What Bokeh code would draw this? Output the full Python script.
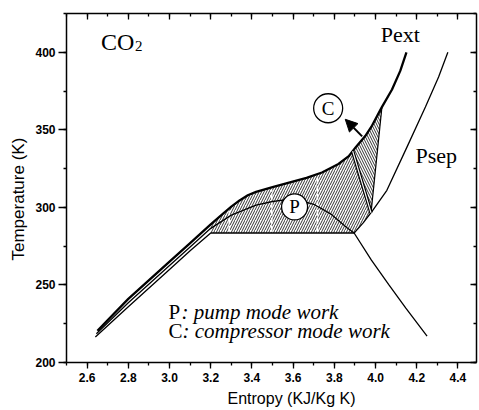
import numpy as np
from bokeh.plotting import figure
from bokeh.models import (Range1d, LinearAxis, SingleIntervalTicker, PrintfTickFormatter,
                          CustomJSTickFormatter, Title, Arrow, NormalHead)
from bokeh.core.properties import value
from bokeh.embed import file_html
from bokeh.resources import INLINE

# ---------------- data (entropy kJ/kg K, temperature K) ----------------
pext_s = [2.65, 2.8, 3.0, 3.1, 3.2, 3.26, 3.3, 3.34, 3.38, 3.42, 3.5, 3.58, 3.665, 3.74, 3.82,
          3.87, 3.905, 3.95, 3.98, 4.03, 4.08, 4.12, 4.15]
pext_T = [220.5, 241, 265, 277, 289, 296, 300.5, 304.5, 307.8, 310, 313, 316, 319, 322.5, 328,
          333, 339, 346, 352, 364.5, 376, 388, 400]

dome_s = [2.645, 2.8, 3.0, 3.1, 3.2, 3.3, 3.42, 3.5, 3.56, 3.62, 3.7, 3.78, 3.86,
          3.896, 3.98, 4.065, 4.147, 4.25]
dome_T = [218.5, 238.5, 262.5, 274.5, 286.5, 295, 301.5, 303.8, 304.8, 305, 302, 296, 287,
          283.5, 266, 250, 235, 217]

psep_s = [2.64, 2.8, 3.0, 3.1, 3.2, 3.896, 3.94, 3.983, 4.055, 4.153, 4.242, 4.306, 4.351]
psep_T = [216.5, 236, 260, 272, 283.5, 283.5, 290, 297.5, 311, 339, 364.7, 384, 400]

# boundaries of the work areas
p_left_s = 3.2
split_s = [3.889, 3.978]          # line separating pump / compressor areas
split_T_low = 296.5
c_right_s = 4.031                 # right limit of compressor area on Pext
evap_s = [3.896, 3.2]
evap_T = 283.5
guide_s = [3.29, 3.496, 3.718]    # white dashed guides inside pump area

circle_s = [3.770, 3.607]
circle_T = [363.9, 300.3]
circle_txt = ["C", "P"]
circle_size = [29, 26]

arrow_s = [3.935, 3.853]
arrow_T = [345.8, 356.8]

# ---------------- figure ----------------
W, H = 479, 410
p = figure(width=W, height=H, x_range=Range1d(2.5, 4.49), y_range=Range1d(200, 425),
           output_backend="svg", toolbar_location=None,
           min_border_left=66, min_border_right=3, min_border_top=13, min_border_bottom=48)
p.xgrid.visible = False
p.ygrid.visible = False
p.outline_line_color = None
p.background_fill_color = "white"
p.border_fill_color = "white"

def style_axis(ax, shown, tick_out_major, standoff):
    ax.axis_line_width = 1.5
    ax.axis_line_color = "black"
    ax.major_tick_line_width = 1.3
    ax.minor_tick_line_width = 1.3
    ax.major_tick_line_color = "black"
    ax.minor_tick_line_color = "black"
    if shown:
        ax.major_tick_out = tick_out_major
        ax.major_tick_in = 0
        ax.minor_tick_out = 3
        ax.minor_tick_in = 0
        ax.major_label_text_font = "Liberation Sans"
        ax.major_label_text_font_size = "12px"
        ax.major_label_text_font_style = "bold"
        ax.major_label_text_color = "black"
        ax.major_label_standoff = standoff
    else:
        ax.major_tick_out = 0
        ax.major_tick_in = 6
        ax.minor_tick_out = 0
        ax.minor_tick_in = 3
        ax.formatter = CustomJSTickFormatter(code="return ''")
        ax.major_label_text_font_size = "1px"
        ax.major_label_standoff = 0

xa = p.xaxis[0]
xa.ticker = SingleIntervalTicker(interval=0.2, num_minor_ticks=2)
xa.formatter = PrintfTickFormatter(format="%.1f")
style_axis(xa, True, 6, 4)

ya = p.yaxis[0]
ya.ticker = SingleIntervalTicker(interval=50, num_minor_ticks=2)
style_axis(ya, True, 8, 3)

top = LinearAxis(ticker=SingleIntervalTicker(interval=0.2, num_minor_ticks=2))
style_axis(top, False, 0, 0)
p.add_layout(top, "above")
right = LinearAxis(ticker=SingleIntervalTicker(interval=50, num_minor_ticks=2))
style_axis(right, False, 0, 0)
p.add_layout(right, "right")

# axis titles
p.add_layout(Title(text="Entropy (KJ/Kg K)", align="left", offset=161, standoff=7,
                   text_font="Liberation Sans", text_font_size="16px",
                   text_font_style="normal", text_color="black"), "below")
p.add_layout(Title(text="Temperature (K)", align="left", offset=102, standoff=9,
                   text_font="Liberation Sans", text_font_size="17px",
                   text_font_style="normal", text_color="black"), "left")

# ---------------- hatched work areas ----------------
ps = np.array(pext_s)
pt = np.array(pext_T)
def pext_at(s):
    return float(np.interp(s, ps, pt))

m = (ps > p_left_s) & (ps < split_s[0])
pump_x = [p_left_s] + list(ps[m]) + [split_s[0], split_s[1]] + evap_s
pump_y = [pext_at(p_left_s)] + list(pt[m]) + [pext_at(split_s[0]), split_T_low, evap_T, evap_T]
p.patch(pump_x, pump_y, fill_color="white", line_color=None,
        hatch_pattern="/", hatch_color="black", hatch_scale=5, hatch_weight=0.8)

m2 = (ps > split_s[0]) & (ps < c_right_s)
comp_x = [split_s[0]] + list(ps[m2]) + [c_right_s, split_s[1]]
comp_y = [pext_at(split_s[0])] + list(pt[m2]) + [pext_at(c_right_s), split_T_low]
p.patch(comp_x, comp_y, fill_color="white", line_color=None,
        hatch_pattern="\\", hatch_color="black", hatch_scale=5, hatch_weight=0.8)

# white dashed guides in pump area
p.segment(x0=guide_s, y0=[evap_T + 0.8] * len(guide_s), x1=guide_s,
          y1=[pext_at(s) - 1.5 for s in guide_s],
          line_color="white", line_width=1.6, line_dash="6 2")

# ---------------- curves ----------------
p.line(psep_s, psep_T, line_color="black", line_width=1.3)
p.line(dome_s, dome_T, line_color="black", line_width=1.3)
p.line(pext_s, pext_T, line_color="black", line_width=2.3)
# compressor area right edge
p.line([c_right_s, split_s[1]], [pext_at(c_right_s), split_T_low], line_color="black", line_width=1.2)
# double separating line
p.line(split_s, [pext_at(split_s[0]), split_T_low], line_color="black", line_width=3.6)
p.line(split_s, [pext_at(split_s[0]), split_T_low], line_color="white", line_width=1.2)

# arrow
p.add_layout(Arrow(end=NormalHead(size=12, fill_color="black", line_color="black"),
                   x_start=arrow_s[0], y_start=arrow_T[0], x_end=arrow_s[1], y_end=arrow_T[1],
                   line_width=2, line_color="black"))

# circles with letters
p.scatter(circle_s, circle_T, size=circle_size, fill_color="white", line_color="black", line_width=1.3)
p.text(circle_s, circle_T, text=circle_txt, text_align="center", text_baseline="middle",
       text_font=value("Liberation Serif"), text_font_size="19px", text_color="black")

# ---------------- texts (anchored at cap-height centre) ----------------
serif = value("Liberation Serif")
p.text([2.667], [406.6], text=["CO"], text_font=serif, text_font_size="24px",
       text_baseline="middle", text_align="left", text_color="black")
p.text([2.667], [404.0], text=["2"], x_offset=34, text_font=serif, text_font_size="15px",
       text_baseline="middle", text_align="left", text_color="black")
p.text([4.025], [411.3], text=["Pext"], text_font=serif, text_font_size="22px",
       text_baseline="middle", text_align="left", text_color="black")
p.text([4.194], [333.5], text=["Psep"], text_font=serif, text_font_size="22px",
       text_baseline="middle", text_align="left", text_color="black")

legend_s = [2.995, 2.995]
legend_T = [232.7, 220.0]
legend_key = ["P", "C"]
legend_desc = [": pump mode work", ": compressor mode work"]
legend_off = [13, 14]
p.text(legend_s, legend_T, text=legend_key, text_font=serif, text_font_size="21px",
       text_baseline="middle", text_align="left", text_color="black")
p.text(legend_s, legend_T, text=legend_desc, x_offset=legend_off, text_font=serif,
       text_font_style="italic", text_font_size="21px",
       text_baseline="middle", text_align="left", text_color="black")

open("out.html", "w").write(file_html(p, INLINE))
